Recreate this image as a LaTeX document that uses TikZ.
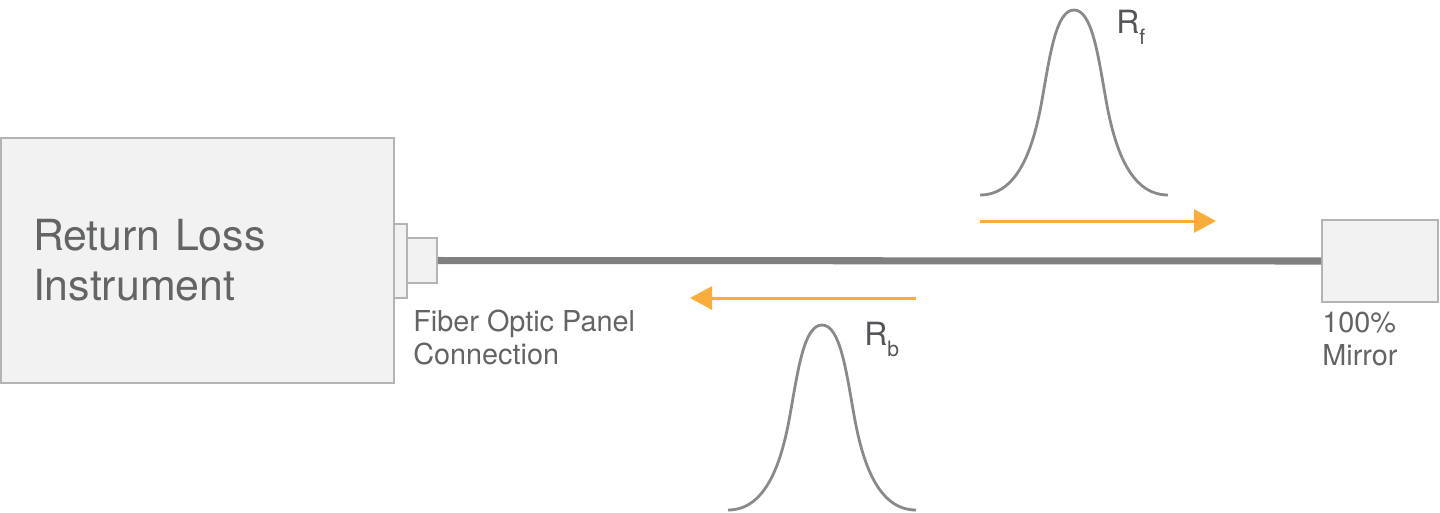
\documentclass[tikz,border=0pt]{standalone}
\usepackage{fontspec}
\setmainfont{TeX Gyre Heros}
\usetikzlibrary{arrows.meta}
\definecolor{BoxGray}{RGB}{242,242,242}
\definecolor{EdgeGray}{RGB}{180,180,180}
\definecolor{FiberGray}{RGB}{128,128,128}
\definecolor{PulseGray}{RGB}{138,138,138}
\definecolor{TextGray}{RGB}{99,100,102}
\definecolor{LabelDark}{RGB}{84,85,89}
\definecolor{SignalOrange}{RGB}{250,173,58}

\begin{document}
\begin{tikzpicture}[x=0.02cm, y=-0.02cm,
    every node/.style={text=TextGray},
    devbox/.style={draw=EdgeGray, fill=BoxGray, line width=1.1pt, rectangle, inner sep=0pt},
    pulse/.style={draw=PulseGray, line width=1.6pt},
    signal/.style={draw=SignalOrange, line width=1.7pt, -{Triangle[length=0.44cm, width=0.46cm]}}]
            \useasboundingbox (0,0) rectangle (1440,512);

            % Boxes
            \node[devbox, minimum height=4.9cm, text width=6.58cm, inner xsep=0.64cm, align=left, font=\fontsize{24.4}{28.4}\selectfont] (instrument) at (197.5,260.5) {Return Loss\\Instrument};

            \node[devbox, minimum width=0.26cm, minimum height=1.48cm] (portout) at (400.5,261) {};

            \node[devbox, minimum width=0.6cm, minimum height=0.9cm] (portin) at (422,260.5) {};

            \node[devbox, minimum width=2.32cm, minimum height=1.64cm] (mirror) at (1380,261) {};

            % Fiber
            \draw[draw=FiberGray, line width=4pt] (portin.east) -- (mirror.west);

            % Labels
            \node[anchor=north west, inner sep=0pt, align=left, font=\fontsize{16.4}{18.8}\selectfont] (panellabel) at (413,310) {Fiber Optic Panel\\Connection};

            \node[anchor=north west, inner sep=0pt, align=left, font=\fontsize{16.4}{18.8}\selectfont] (mirrorlabel) at (1322,312) {100\%\\Mirror};

            % Pulses
            \foreach \cx/\cy in {1074/195, 822/510}
                \draw[pulse, shift={(\cx,\cy)}] (-94,0) .. controls (-55,0) and (-40,-50) .. (-32,-95) .. controls (-24,-140) and (-18,-185) .. (0,-185) .. controls (18,-185) and (24,-140) .. (32,-95) .. controls (40,-50) and (55,0) .. (94,0);

            \node[anchor=north west, inner sep=0pt, text=LabelDark, font=\fontsize{18.2}{20}\selectfont] (rf) at (1116,10) {R\raisebox{-6pt}{\fontsize{12}{12}\selectfont f}};
            \node[anchor=north west, inner sep=0pt, text=LabelDark, font=\fontsize{18.2}{20}\selectfont] (rb) at (864,322) {R\raisebox{-6pt}{\fontsize{12}{12}\selectfont b}};

            % Arrows
            \coordinate (fwdstart) at (980,221);
            \coordinate (fwdend) at (1216,221);
            \coordinate (bckstart) at (916,298);
            \coordinate (bckend) at (690,298);
            \draw[signal] (fwdstart) -- (fwdend);
            \draw[signal] (bckstart) -- (bckend);
        \end{tikzpicture}
\end{document}
